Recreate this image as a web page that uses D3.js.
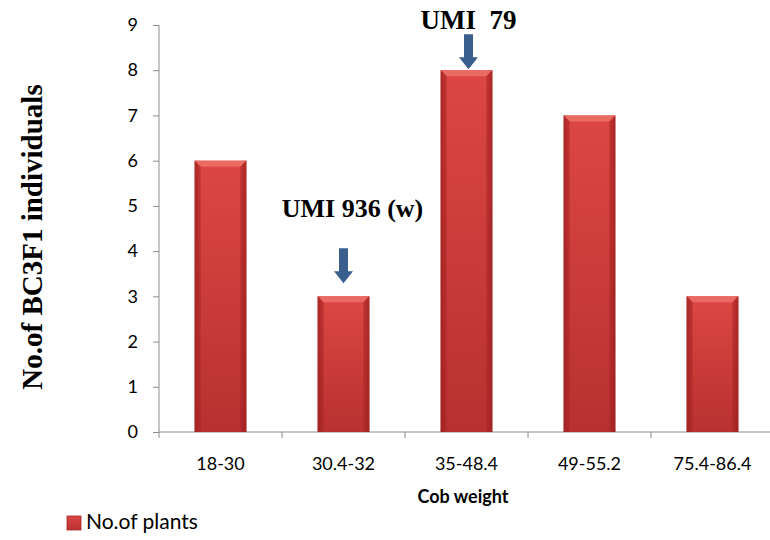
<!DOCTYPE html>
<html><head><meta charset="utf-8">
<script src="https://cdn.jsdelivr.net/npm/d3@7"></script>
<style>body{margin:0;background:#fff}svg{display:block}</style>
</head><body>
<script>
const categories = ["18-30","30.4-32","35-48.4","49-55.2","75.4-86.4"];
const values = [6,3,8,7,3];
const yTicks = [0,1,2,3,4,5,6,7,8,9];
const seriesName = "No.of plants";
const annotationCats = ["30.4-32","35-48.4"];
const annotationLabels = ["UMI 936 (w)","UMI  79"];

// layout (pixels) for the annotations: gap arrow-tip to bar top, arrow length, text gap above arrow, font size, x shift
const annLayout = [{gap:13, len:35, tgap:31, fs:26, dx:0}, {gap:1, len:35, tgap:5, fs:27, dx:2}];

const W=770,H=540;
const svg=d3.select("body").append("svg").attr("width",W).attr("height",H);
const defs=svg.append("defs");
const gv=defs.append("linearGradient").attr("id","gv").attr("x1",0).attr("y1",0).attr("x2",0).attr("y2",1);
gv.append("stop").attr("offset","0%").attr("stop-color","#dc4743");
gv.append("stop").attr("offset","100%").attr("stop-color","#b83130");
const gh=defs.append("linearGradient").attr("id","gh").attr("x1",0).attr("y1",0).attr("x2",1).attr("y2",0);
gh.append("stop").attr("offset","0%").attr("stop-color","#7a1010").attr("stop-opacity",0.5);
gh.append("stop").attr("offset","10%").attr("stop-color","#7a1010").attr("stop-opacity",0.0);
gh.append("stop").attr("offset","90%").attr("stop-color","#7a1010").attr("stop-opacity",0.0);
gh.append("stop").attr("offset","100%").attr("stop-color","#7a1010").attr("stop-opacity",0.5);

const x0=159, y0=432, plotW=615;
const x=d3.scaleBand().domain(categories).range([x0,x0+plotW]).paddingInner(0.58).paddingOuter(0.29);
const y=d3.scaleLinear().domain([0,9]).range([y0,25]);
const sans="Lato, 'Open Sans', sans-serif";
const serif="'Liberation Serif', 'Times New Roman', serif";

// y axis
const ya=svg.append("g").attr("transform",`translate(${x0},0)`)
  .call(d3.axisLeft(y).tickValues(yTicks).tickSize(6).tickPadding(15).tickFormat(d3.format("d")));
ya.select(".domain").attr("stroke","#8c8c8c").attr("d",`M0,${y(9)}V${y0}`);
ya.selectAll(".tick line").attr("stroke","#8c8c8c");
ya.selectAll("text").attr("font-family",sans).attr("font-size",18).attr("fill","#000");

// x axis
const xb=svg.append("g").attr("transform",`translate(0,${y0})`);
xb.append("line").attr("x1",x0).attr("x2",x0+plotW).attr("stroke","#8c8c8c");
const bounds=categories.map((c,i)=>x0+i*x.step()).concat([x0+plotW]);
xb.selectAll("line.t").data(bounds).join("line").attr("class","t")
  .attr("x1",d=>d).attr("x2",d=>d).attr("y1",0).attr("y2",6).attr("stroke","#8c8c8c");
xb.selectAll("text").data(categories).join("text")
  .attr("x",d=>x(d)+x.bandwidth()/2).attr("y",38).attr("text-anchor","middle")
  .attr("font-family",sans).attr("font-size",18).text(d=>d);

// bars
const bw=x.bandwidth(), bev=6;
const bars=svg.append("g").selectAll("g").data(categories.map((c,i)=>({c,v:values[i]}))).join("g");
bars.append("rect").attr("x",d=>x(d.c)).attr("y",d=>y(d.v)).attr("width",bw).attr("height",d=>y0-y(d.v)).attr("fill","url(#gv)");
bars.append("rect").attr("x",d=>x(d.c)).attr("y",d=>y(d.v)).attr("width",bw).attr("height",d=>y0-y(d.v)).attr("fill","url(#gh)");
bars.append("path").attr("d",d=>{const l=x(d.c),t=y(d.v);return `M${l},${t}H${l+bw}L${l+bw-bev},${t+bev}H${l+bev}Z`;}).attr("fill","#ea6a64");
bars.append("path").attr("d",d=>{const l=x(d.c),t=y(d.v);return `M${l},${t}L${l+bev},${t+bev}V${y0}H${l}Z`;}).attr("fill","#a82424").attr("opacity",0.55);
bars.append("path").attr("d",d=>{const l=x(d.c),t=y(d.v);return `M${l+bw},${t}L${l+bw-bev},${t+bev}V${y0}H${l+bw}Z`;}).attr("fill","#a82424").attr("opacity",0.55);

// annotations
annotationCats.forEach((c,i)=>{
  const L=annLayout[i];
  const v=values[categories.indexOf(c)];
  const cx=x(c)+bw/2+L.dx, tip=y(v)-L.gap, top=tip-L.len;
  svg.append("path").attr("d",`M${cx-4.5},${top}H${cx+4.5}V${tip-12}H${cx+9.5}L${cx},${tip}L${cx-9.5},${tip-12}H${cx-4.5}Z`).attr("fill","#3a5f8f");
  svg.append("text").attr("x",cx+(i===0?9:0)).attr("y",top-L.tgap).attr("text-anchor","middle")
    .attr("font-family",serif).attr("font-weight","bold").attr("font-size",L.fs)
    .attr("xml:space","preserve").style("white-space","pre").text(annotationLabels[i]);
});

// axis titles
svg.append("text").attr("x",463).attr("y",503).attr("text-anchor","middle")
  .attr("font-family",sans).attr("font-weight","bold").attr("font-size",18).text("Cob weight");
svg.append("text").attr("transform","translate(42,237) rotate(-90)").attr("text-anchor","middle")
  .attr("font-family",serif).attr("font-weight","bold").attr("font-size",29).text("No.of BC3F1 individuals");

// legend
svg.append("rect").attr("x",67).attr("y",516).attr("width",14).attr("height",14).attr("fill","url(#gv)").attr("stroke","#a82424").attr("stroke-width",0.8);
svg.append("text").attr("x",86).attr("y",529).attr("font-family",sans).attr("font-size",21).text(seriesName);
</script>
</body></html>
